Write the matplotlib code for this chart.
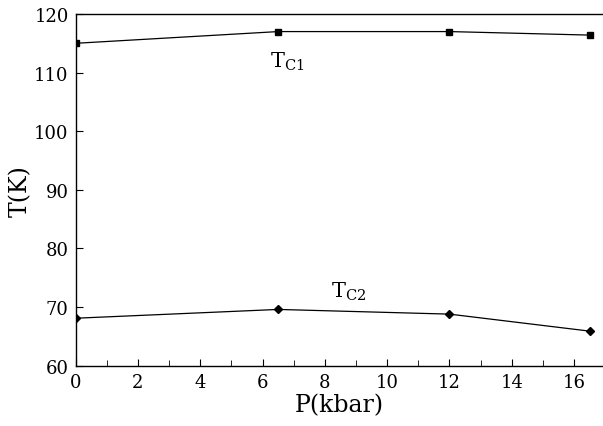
import matplotlib
matplotlib.use("Agg")
import matplotlib.pyplot as plt
from matplotlib.ticker import MultipleLocator

# Pressure (kbar) and transition temperatures (K)
pressure = [0, 6.5, 12, 16.5]
tc1 = [115.0, 117.0, 117.0, 116.4]
tc2 = [68.1, 69.6, 68.8, 65.9]

plt.rcParams['font.family'] = ['DejaVu Serif']
plt.rcParams['mathtext.fontset'] = 'dejavuserif'

fig = plt.figure(figsize=(6.03, 4.27), dpi=100)
ax = fig.add_axes([0.1255, 0.1412, 0.8745, 0.8237])

ax.plot(pressure, tc1, color='black', lw=0.9, marker='s', ms=5)
ax.plot(pressure, tc2, color='black', lw=0.9, marker='D', ms=4.5)

ax.text(6.25, 111.0, r'T$_{\mathrm{C1}}$', fontsize=15, ha='left', va='baseline')
ax.text(8.2, 71.7, r'T$_{\mathrm{C2}}$', fontsize=15, ha='left', va='baseline')

ax.set_xlim(0, 16.93)
ax.set_ylim(60, 120)
ax.xaxis.set_major_locator(MultipleLocator(2))
ax.xaxis.set_minor_locator(MultipleLocator(1))
ax.yaxis.set_major_locator(MultipleLocator(10))
ax.tick_params(which='both', direction='in', labelsize=13, pad=5)
ax.tick_params(which='major', length=5)
ax.tick_params(which='minor', length=4)
ax.spines['right'].set_visible(False)
for s in ['left', 'bottom', 'top']:
    ax.spines[s].set_linewidth(1.0)

ax.set_xlabel('P(kbar)', fontsize=17, labelpad=2)
ax.set_ylabel('T(K)', fontsize=17, labelpad=2)

fig.savefig('out.png', dpi=100)
